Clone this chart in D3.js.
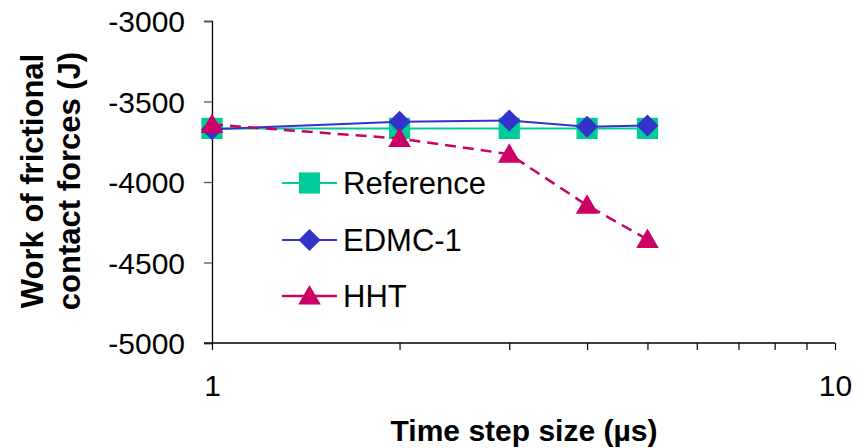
<!DOCTYPE html>
<html>
<head>
<meta charset="utf-8">
<script src="https://cdn.jsdelivr.net/npm/d3@7"></script>
<style>
  html, body { margin: 0; padding: 0; background: #fff; }
  svg { display: block; font-family: Arial, "Liberation Sans", sans-serif; }
</style>
</head>
<body>
<svg id="chart" width="865" height="448"></svg>
<script>
// Time step sizes (µs)
const timeSteps = [1, 2, 3, 4, 5];
// Work of frictional contact forces (J) per scheme
const referenceValues = [-3667, -3667, -3667, -3667, -3667];
const edmcValues = [-3672, -3626, -3618, -3657, -3649];
const hhtValues = [-3643, -3730, -3827, -4145, -4357];
const seriesNames = ["Reference", "EDMC-1", "HHT"];
const yTicks = [-3000, -3500, -4000, -4500, -5000];
const xTickLabels = [1, 10];

const svg = d3.select("#chart");
const plotLeft = 212, plotRight = 835, plotTop = 21, plotBottom = 343;

const x = d3.scaleLog().domain([1, 10]).range([plotLeft, plotRight]);
const y = d3.scaleLinear().domain([-5000, -3000]).range([plotBottom, plotTop]);

// Square rotated by 45 degrees (equal width and height)
const symbolRhombus = {
  draw(ctx, size) {
    const r = Math.sqrt(size / 2);
    ctx.moveTo(0, -r); ctx.lineTo(r, 0); ctx.lineTo(0, r); ctx.lineTo(-r, 0); ctx.closePath();
  }
};

// Y axis
const yAxis = d3.axisLeft(y).tickValues(yTicks).tickSize(8).tickFormat(d => String(d));
const gy = svg.append("g").attr("transform", `translate(${plotLeft},0)`).call(yAxis);
gy.attr("font-family", null).attr("font-size", null);
gy.select(".domain").attr("stroke", "#000").attr("stroke-width", 1.3);
gy.selectAll(".tick line").attr("stroke", "#555").attr("stroke-width", 1.3);
gy.selectAll(".tick text").attr("font-size", 30).attr("fill", "#000").attr("x", -27).attr("dy", "0.36em");

// X axis: minor ticks at every integer, labels at the decades
const minorTicks = d3.range(1, 11);
const xAxis = d3.axisBottom(x).tickValues(minorTicks).tickSize(7)
  .tickFormat(d => xTickLabels.includes(d) ? d : "");
const gx = svg.append("g").attr("transform", `translate(0,${plotBottom})`).call(xAxis);
gx.attr("font-family", null).attr("font-size", null);
gx.select(".domain").attr("stroke", "#000").attr("stroke-width", 1.3).attr("d", `M${plotLeft},0H${plotRight}`);
gx.selectAll(".tick line").attr("stroke", "#000").attr("stroke-width", 1.2);
gx.selectAll(".tick text").attr("font-size", 30).attr("fill", "#000").attr("y", 53).attr("dy", null);
// short tick left of the origin
svg.append("line").attr("x1", plotLeft - 8).attr("x2", plotLeft).attr("y1", plotBottom).attr("y2", plotBottom)
  .attr("stroke", "#000").attr("stroke-width", 1.3);

// Axis titles
svg.append("text").attr("x", 524).attr("y", 441).attr("text-anchor", "middle")
  .attr("font-size", 30).attr("font-weight", "bold").text("Time step size (µs)");
const yTitle = svg.append("text").attr("transform", "translate(0,181) rotate(-90)")
  .attr("text-anchor", "middle").attr("font-size", 31).attr("font-weight", "bold");
yTitle.append("tspan").attr("x", 0).attr("y", 43).text("Work of frictional");
yTitle.append("tspan").attr("x", 0).attr("y", 80).text("contact forces (J)");

const series = [
  { name: seriesNames[0], values: referenceValues, color: "#00CC99", symbol: d3.symbolSquare, size: 450, dash: null, width: 2, dy: 0 },
  { name: seriesNames[1], values: edmcValues, color: "#3333CC", symbol: symbolRhombus, size: 242, dash: null, width: 2, dy: 0 },
  { name: seriesNames[2], values: hhtValues, color: "#CC0066", symbol: d3.symbolTriangle, size: 220, dash: "11,7", width: 2.5, dy: 2 }
];

const line = d3.line().x(d => x(d[0])).y(d => y(d[1]));

series.forEach(s => {
  const pts = timeSteps.map((t, i) => [t, s.values[i]]);
  svg.append("path").datum(pts).attr("d", line).attr("fill", "none")
    .attr("stroke", s.color).attr("stroke-width", s.width)
    .attr("stroke-dasharray", s.dash);
  svg.selectAll(null).data(pts).enter().append("path")
    .attr("d", d3.symbol().type(s.symbol).size(s.size))
    .attr("transform", d => `translate(${x(d[0])},${y(d[1]) + s.dy})`)
    .attr("fill", s.color);
});

// Legend
const legendRows = [183, 240, 296];
series.forEach((s, i) => {
  const g = svg.append("g").attr("transform", `translate(282,${legendRows[i]})`);
  g.append("line").attr("x1", 0).attr("x2", 55).attr("y1", 0).attr("y2", 0)
    .attr("stroke", s.color).attr("stroke-width", s.width);
  g.append("path").attr("d", d3.symbol().type(s.symbol).size(s.size))
    .attr("transform", `translate(27.5,${s.dy})`).attr("fill", s.color);
  g.append("text").attr("x", 61).attr("y", 11).attr("font-size", 31).text(s.name);
});
</script>
</body>
</html>
